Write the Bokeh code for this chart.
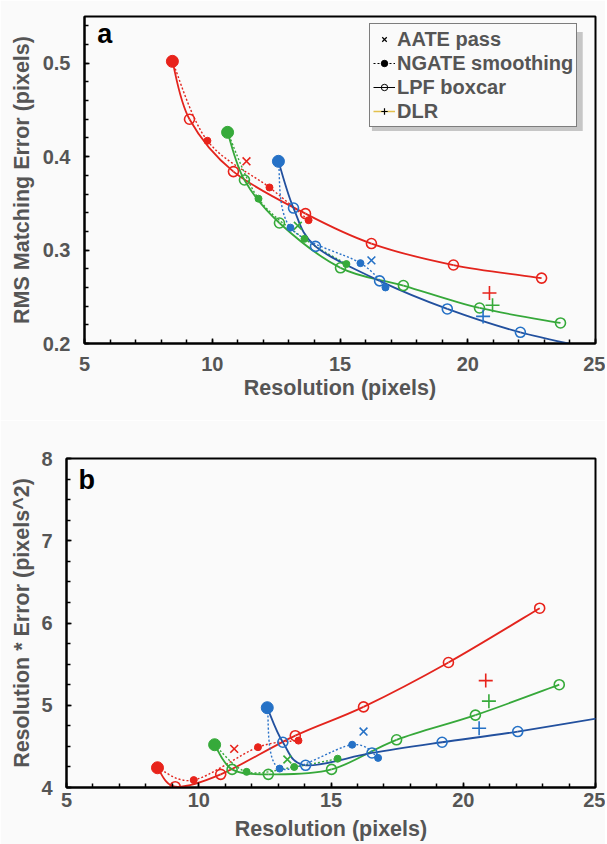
import numpy as np
from bokeh.plotting import figure
from bokeh.models import FixedTicker, Legend, LegendItem, Label, Range1d, BoxAnnotation
from bokeh.embed import file_html
from bokeh.resources import INLINE

FONT = "Liberation Sans"
GRAY = "#555555"
BG = "#fafafa"

# ---------------- data ----------------
# Panel a: Resolution (pixels) vs RMS matching error (pixels)
red_lpf_res = [8.44, 9.11, 10.83, 13.65, 16.23, 19.44, 22.89]
red_lpf_err = [0.502, 0.440, 0.384, 0.339, 0.307, 0.284, 0.270]
red_ngate_res = [8.44, 9.81, 12.24, 13.77]
red_ngate_err = [0.502, 0.417, 0.367, 0.332]
red_aate_res = [11.34]
red_aate_err = [0.395]
red_dlr_res = [20.85]
red_dlr_err = [0.254]

green_lpf_res = [10.60, 11.26, 12.63, 15.02, 17.48, 20.46, 23.63]
green_lpf_err = [0.426, 0.375, 0.329, 0.281, 0.262, 0.238, 0.222]
green_ngate_res = [10.60, 11.81, 13.61, 15.25]
green_ngate_err = [0.426, 0.355, 0.312, 0.285]
green_aate_res = [13.35]
green_aate_err = [0.326]
green_dlr_res = [20.97]
green_dlr_err = [0.241]

blue_lpf_res = [12.59, 13.18, 14.04, 16.55, 19.20, 22.06, 26.00]
blue_lpf_err = [0.395, 0.345, 0.304, 0.267, 0.237, 0.212, 0.188]
blue_ngate_res = [12.59, 13.06, 15.80, 16.78]
blue_ngate_err = [0.395, 0.324, 0.286, 0.260]
blue_aate_res = [16.23]
blue_aate_err = [0.289]
blue_dlr_res = [20.60]
blue_dlr_err = [0.229]

# Panel b: Resolution * Error (pixels^2)
red_lpf_prod = [4.24, 4.01, 4.16, 4.63, 4.98, 5.52, 6.18]
red_ngate_prod = [4.24, 4.09, 4.49, 4.57]
red_aate_prod = [4.47]
red_dlr_prod = [5.30]

green_lpf_prod = [4.52, 4.22, 4.16, 4.22, 4.58, 4.88, 5.25]
green_ngate_prod = [4.52, 4.19, 4.25, 4.35]
green_aate_prod = [4.34]
green_dlr_prod = [5.05]

blue_lpf_prod = [4.97, 4.55, 4.27, 4.42, 4.55, 4.68, 4.89]
blue_ngate_prod = [4.97, 4.23, 4.52, 4.36]
blue_aate_prod = [4.68]
blue_dlr_prod = [4.72]

x_ticks = [5, 10, 15, 20, 25]
a_y_ticks = [0.2, 0.3, 0.4, 0.5]
b_y_ticks = [4, 5, 6, 7, 8]

series = [
    dict(line="#e3241d", mk="#e8231b", dot="#e3241d",
         lpf_res=red_lpf_res, lpf_a=red_lpf_err, lpf_b=red_lpf_prod,
         ng_res=red_ngate_res, ng_a=red_ngate_err, ng_b=red_ngate_prod,
         aa_res=red_aate_res, aa_a=red_aate_err, aa_b=red_aate_prod,
         dl_res=red_dlr_res, dl_a=red_dlr_err, dl_b=red_dlr_prod),
    dict(line="#36a83a", mk="#36aa3a", dot="#36a83a",
         lpf_res=green_lpf_res, lpf_a=green_lpf_err, lpf_b=green_lpf_prod,
         ng_res=green_ngate_res, ng_a=green_ngate_err, ng_b=green_ngate_prod,
         aa_res=green_aate_res, aa_a=green_aate_err, aa_b=green_aate_prod,
         dl_res=green_dlr_res, dl_a=green_dlr_err, dl_b=green_dlr_prod),
    dict(line="#22509e", mk="#2571c6", dot="#2a72c8",
         lpf_res=blue_lpf_res, lpf_a=blue_lpf_err, lpf_b=blue_lpf_prod,
         ng_res=blue_ngate_res, ng_a=blue_ngate_err, ng_b=blue_ngate_prod,
         aa_res=blue_aate_res, aa_a=blue_aate_err, aa_b=blue_aate_prod,
         dl_res=blue_dlr_res, dl_a=blue_dlr_err, dl_b=blue_dlr_prod),
]


def smooth_segments(xs, ys):
    """Catmull-Rom through the data points, as cubic Bezier segments."""
    xs = list(xs)
    ys = list(ys)
    px = [xs[0]] + xs + [xs[-1]]
    py = [ys[0]] + ys + [ys[-1]]
    out = dict(x0=[], y0=[], x1=[], y1=[], cx0=[], cy0=[], cx1=[], cy1=[])
    for j in range(len(xs) - 1):
        out["x0"].append(px[j + 1]); out["y0"].append(py[j + 1])
        out["x1"].append(px[j + 2]); out["y1"].append(py[j + 2])
        out["cx0"].append(px[j + 1] + (px[j + 2] - px[j]) / 6.0)
        out["cy0"].append(py[j + 1] + (py[j + 2] - py[j]) / 6.0)
        out["cx1"].append(px[j + 2] - (px[j + 3] - px[j + 1]) / 6.0)
        out["cy1"].append(py[j + 2] - (py[j + 3] - py[j + 1]) / 6.0)
    return out


def style(p, yticks, yminor, xlabel, ylabel, ylab_standoff, xlab_standoff, xtick_standoff):
    p.xgrid.visible = False
    p.ygrid.visible = False
    p.outline_line_color = "black"
    p.outline_line_width = 2
    p.outline_line_alpha = 1
    p.background_fill_color = BG
    p.border_fill_color = BG
    p.xaxis.ticker = FixedTicker(ticks=x_ticks, minor_ticks=list(range(5, 26)))
    p.yaxis.ticker = FixedTicker(ticks=yticks, minor_ticks=yminor)
    for ax in (p.xaxis[0], p.yaxis[0]):
        ax.axis_line_width = 2
        ax.axis_line_color = "black"
        ax.major_tick_in = 5
        ax.major_tick_out = 0
        ax.minor_tick_in = 4
        ax.minor_tick_out = 0
        ax.major_tick_line_width = 1.5
        ax.minor_tick_line_width = 1.5
        ax.major_label_text_font = FONT
        ax.major_label_text_font_style = "bold"
        ax.major_label_text_font_size = "20px"
        ax.major_label_text_color = GRAY
        ax.axis_label_text_font = FONT
        ax.axis_label_text_font_style = "bold"
        ax.axis_label_text_font_size = "21.5px"
        ax.axis_label_text_color = GRAY
    p.xaxis.axis_label = xlabel
    p.yaxis.axis_label = ylabel
    p.yaxis.major_label_standoff = 14
    p.yaxis.axis_label_standoff = ylab_standoff
    p.xaxis.major_label_standoff = xtick_standoff
    p.xaxis.axis_label_standoff = xlab_standoff


def draw(p, key):
    for s in series:
        lpf_y = s["lpf_" + key]
        ng_y = s["ng_" + key]
        p.bezier(**smooth_segments(s["lpf_res"], lpf_y), line_color=s["line"], line_width=1.8)
        p.bezier(**smooth_segments(s["ng_res"], ng_y), line_color=s["dot"], line_width=1.4,
                 line_dash="2 2")
    for s in series:
        lpf_y = s["lpf_" + key]
        ng_y = s["ng_" + key]
        p.scatter(s["lpf_res"][1:], lpf_y[1:], marker="circle", size=10, fill_color=None,
                  line_color=s["mk"], line_width=1.6)
        p.scatter(s["ng_res"][1:], ng_y[1:], marker="circle", size=7, fill_color=s["mk"],
                  line_color=s["mk"])
        p.scatter(s["lpf_res"][:1], lpf_y[:1], marker="circle", size=12, fill_color=s["mk"],
                  line_color=s["mk"], line_width=1)
        p.scatter(s["aa_res"], s["aa_" + key], marker="x", size=11, line_color=s["mk"],
                  line_width=1.6)
        p.scatter(s["dl_res"], s["dl_" + key], marker="cross", size=14, line_color=s["mk"],
                  line_width=1.6)


# ---------------- panel a ----------------
pa = figure(width=605, height=420, output_backend="svg", toolbar_location=None,
            x_range=Range1d(5, 25), y_range=Range1d(0.2, 0.55),
            min_border_left=84, min_border_right=10, min_border_top=16, min_border_bottom=77)
style(pa, a_y_ticks, [round(0.2 + 0.02 * i, 2) for i in range(18)],
      "Resolution (pixels)", "RMS Matching Error (pixels)", 6, 2, 13)
draw(pa, "a")
pa.add_layout(Label(x=5.5, y=0.531, text="a", text_font=FONT, text_font_style="bold",
                    text_font_size="27px", text_color="black", text_baseline="alphabetic"))

# soft shadow behind the legend box
pa.add_layout(BoxAnnotation(left=16.25, right=24.5, top=0.5335, bottom=0.4275,
                            fill_color="#9a9a9a", fill_alpha=0.55, line_color=None,
                            level="overlay"))

nan = [np.nan]
r_x = pa.scatter(nan, nan, marker="x", size=8, line_color="black", line_width=1.2)
r_dl = pa.line(nan, nan, line_color="black", line_dash="2 2", line_width=1)
r_dd = pa.scatter(nan, nan, marker="circle", size=6, fill_color="black", line_color="black")
r_sl = pa.line(nan, nan, line_color="black", line_width=1)
r_oc = pa.scatter(nan, nan, marker="circle", size=8, fill_color=None, line_color="black",
                  line_width=1)
r_yl = pa.line(nan, nan, line_color="#e3c04c", line_width=1.5)
r_pl = pa.scatter(nan, nan, marker="cross", size=12, line_color="black", line_width=1.2)

legend = Legend(items=[
    LegendItem(label="AATE pass", renderers=[r_x]),
    LegendItem(label="NGATE smoothing", renderers=[r_dl, r_dd]),
    LegendItem(label="LPF boxcar", renderers=[r_sl, r_oc]),
    LegendItem(label="DLR", renderers=[r_yl, r_pl]),
], location=(285, 216))
legend.label_text_font = FONT
legend.label_text_font_style = "bold"
legend.label_text_font_size = "20px"
legend.label_text_color = GRAY
legend.glyph_width = 22
legend.glyph_height = 16
legend.label_height = 24
legend.label_standoff = 2
legend.spacing = 0
legend.padding = 3
legend.margin = 0
legend.border_line_color = "black"
legend.border_line_width = 1
legend.background_fill_color = BG
legend.background_fill_alpha = 1
legend.level = "overlay"
pa.add_layout(legend)

# ---------------- panel b ----------------
pb = figure(width=605, height=424, output_backend="svg", toolbar_location=None,
            x_range=Range1d(5, 25), y_range=Range1d(4, 8),
            min_border_left=66, min_border_right=10, min_border_top=38, min_border_bottom=57)
style(pb, b_y_ticks, [4 + 0.25 * i for i in range(17)],
      "Resolution (pixels)", "Resolution * Error (pixels^2)", 4, 7, 5)
draw(pb, "b")
pb.add_layout(Label(x=5.45, y=7.735, text="b", text_font=FONT, text_font_style="bold",
                    text_font_size="27px", text_color="black", text_baseline="alphabetic"))

html = file_html([pa, pb], INLINE)
html = html.replace("<body>", '<body style="background-color:#fafafa;">', 1)
open("out.html", "w").write(html)
